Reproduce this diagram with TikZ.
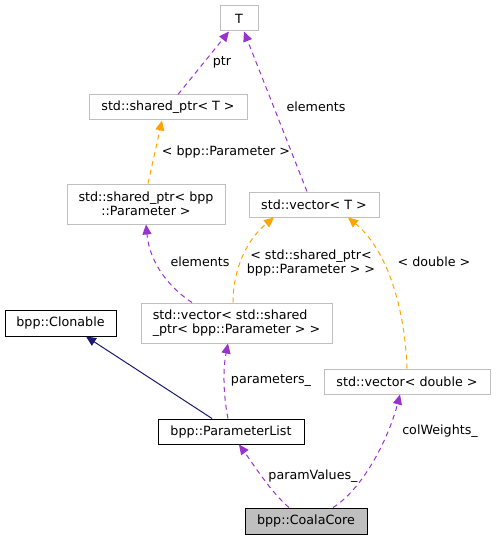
\documentclass[tikz,border=0pt]{standalone}
\usepackage{fontspec}
\setmainfont{DejaVu Sans}
\usepackage{xcolor}
\usepackage{tikz}
\usetikzlibrary{arrows.meta,positioning}
\definecolor{Orchid}{HTML}{9A32CD}
\definecolor{Amber}{HTML}{FFA500}
\definecolor{Midnight}{HTML}{191970}
\definecolor{Grey75}{HTML}{BFBFBF}
\newcommand{\graphfont}{\fontsize{12.7}{13.5}\selectfont}

\begin{document}
\begin{tikzpicture}[
  x=1pt,y=-1pt,
  box/.style={draw=Grey75,fill=white,line width=1pt,inner sep=0pt,minimum height=25pt,font=\graphfont,align=center},
  docbox/.style={box,draw=black},
  lbl/.style={font=\graphfont,inner sep=0pt,align=center},
  usage/.style={-{Triangle[length=10pt,width=9pt]},line width=1pt,dash pattern=on 5pt off 4pt,color=Orchid},
  templ/.style={usage,color=Amber},
  inherit/.style={-{Triangle[length=10pt,width=9pt]},line width=1pt,color=Midnight}
]
\useasboundingbox (0,0) rectangle (495,540);
% classes
\node[box,minimum width=38pt] (T) at (239,18.5) {T};
\node[box,minimum width=158pt] (spT) at (168,107.5) {std::shared\_ptr< T >};
\node[box,minimum width=158pt,minimum height=40pt] (spP) at (146,204) {std::shared\_ptr< bpp\\::Parameter >};
\node[box,minimum width=130pt] (vT) at (314,204.5) {std::vector< T >};
\node[box,minimum width=191pt,minimum height=40pt,align=left] (vsp) at (236.5,323) {std::vector< std::shared\\\_ptr< bpp::Parameter > >};
\node[docbox,minimum width=111pt,minimum height=26pt] (clon) at (60.5,323) {bpp::Clonable};
\node[box,minimum width=166pt] (vd) at (407,381.5) {std::vector< double >};
\node[docbox,minimum width=146pt] (plist) at (231,431.5) {bpp::ParameterList};
\node[docbox,fill=Grey75,minimum width=122pt,minimum height=26pt] (core) at (306,521) {bpp::CoalaCore};
% connectors
\draw[usage] ([xshift=10pt]spT.north) -- ([xshift=-10pt]T.south);
\draw[usage] ([xshift=-7pt]vT.north) -- ([xshift=5pt]T.south);
\draw[templ] ([xshift=2pt]spP.north) -- ([xshift=-6pt]spT.south);
\draw[usage] ([xshift=-44.5pt]vsp.north) .. controls +(-20,-13) and +(4,41) .. (spP.south);
\draw[templ] ([xshift=-3.5pt]vsp.north) .. controls +(0,-35) and +(-26,21) .. ([xshift=-40pt]vT.south);
\draw[templ] (vd.north) .. controls +(-2,-59) and +(40,33) .. ([xshift=34pt]vT.south);
\draw[inherit] ([xshift=-19pt]plist.north) -- ([xshift=25.5pt]clon.south);
\draw[usage] ([xshift=-3pt]plist.north) .. controls +(-5,-25) and +(-5,25) .. ([xshift=-8.5pt]vsp.south);
\draw[usage] ([xshift=-17pt]core.north) .. controls +(-17,-14) and +(13,18) .. ([xshift=8pt]plist.south);
\draw[usage] ([xshift=27pt]core.north) .. controls +(29,-18) and +(-12,46) .. ([xshift=-7pt]vd.south);
% labels
\node[lbl] (ptrlbl) at (222,62) {ptr};
\node[lbl] (elemlbl) at (316,107) {elements};
\node[lbl] (paramlbl) at (226,152) {< bpp::Parameter >};
\node[lbl] (elemlbl2) at (200,262) {elements};
\node[lbl] (splbl) at (311,263) {< std::shared\_ptr<\\bpp::Parameter > >};
\node[lbl] (dbllbl) at (434,262) {< double >};
\node[lbl] (parlbl) at (271,381) {parameters\_};
\node[lbl] (pvlbl) at (313,476) {paramValues\_};
\node[lbl] (cwlbl) at (440,431) {colWeights\_};
\end{tikzpicture}
\end{document}
